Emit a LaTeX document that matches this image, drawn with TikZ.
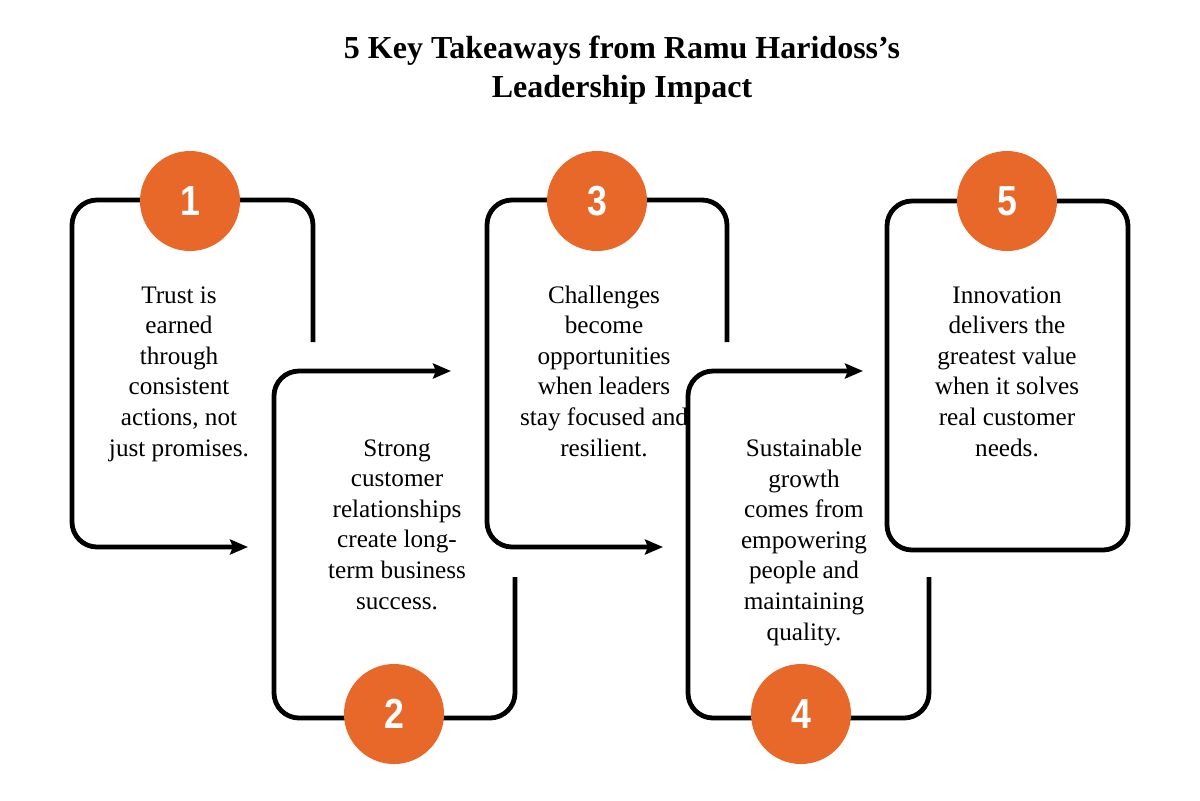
\documentclass[tikz,border=0pt]{standalone}
\usepackage{fontspec}
\setmainfont{Liberation Serif}
\newfontfamily\numfont{Liberation Sans}
\usetikzlibrary{arrows.meta}
\definecolor{accent}{HTML}{E8682A}
\begin{document}
\begin{tikzpicture}[x=0.5pt,y=-0.5pt,
  outline/.style={line width=2.4pt, rounded corners=12.5pt},
  arrowline/.style={outline, -{Stealth[length=9pt,width=7.5pt,inset=1.5pt]}},
  badge/.style={circle, fill=accent, minimum size=50pt, inner sep=0pt, text=white,
    font=\numfont\bfseries\fontsize{21}{21}\selectfont},
  body/.style={align=center, anchor=base, inner sep=0pt,
    font=\fontsize{12.6}{15.3}\selectfont},
  title/.style={align=center, anchor=base, inner sep=0pt,
    font=\bfseries\fontsize{16}{19.5}\selectfont}]
\useasboundingbox[fill=white] (0,0) rectangle (1200,800);

% title (anchored at the baseline of its last line)
\node[title] (title) at (622,97) {5 Key Takeaways from Ramu Haridoss’s\\Leadership Impact};

% box outlines
\coordinate (b1s) at (313,342); \coordinate (b1e) at (248,547);
\draw[arrowline] (b1s) -- (313,200) -- (72,200) -- (72,547) -- (b1e);

\coordinate (b2s) at (515,577); \coordinate (b2e) at (451,371);
\draw[arrowline] (b2s) -- (515,718) -- (274,718) -- (274,371) -- (b2e);

\coordinate (b3s) at (727,342); \coordinate (b3e) at (663,547);
\draw[arrowline] (b3s) -- (727,200) -- (487,200) -- (487,547) -- (b3e);

\coordinate (b4s) at (929,577); \coordinate (b4e) at (863,371);
\draw[arrowline] (b4s) -- (929,718) -- (688,718) -- (688,371) -- (b4e);

\draw[outline] (887,201) rectangle (1128,550);

% badges
\node[badge] (n1) at (190,201) {\scalebox{0.85}[1]{1}};
\node[badge] (n2) at (394,714) {\scalebox{0.85}[1]{2}};
\node[badge] (n3) at (597,201) {\scalebox{0.85}[1]{3}};
\node[badge] (n4) at (801,714) {\scalebox{0.85}[1]{4}};
\node[badge] (n5) at (1007,201) {\scalebox{0.85}[1]{5}};

% texts (anchored at the baseline of their last line)
\node[body] (t1) at (179,456) {Trust is\\earned\\through\\consistent\\actions, not\\just promises.};
\node[body] (t2) at (397,609) {Strong\\customer\\relationships\\create long-\\term business\\success.};
\node[body] (t3) at (604,456) {Challenges\\become\\opportunities\\when leaders\\stay focused and\\resilient.};
\node[body] (t4) at (804,640) {Sustainable\\growth\\comes from\\empowering\\people and\\maintaining\\quality.};
\node[body] (t5) at (1007,456) {Innovation\\delivers the\\greatest value\\when it solves\\real customer\\needs.};
\end{tikzpicture}
\end{document}
